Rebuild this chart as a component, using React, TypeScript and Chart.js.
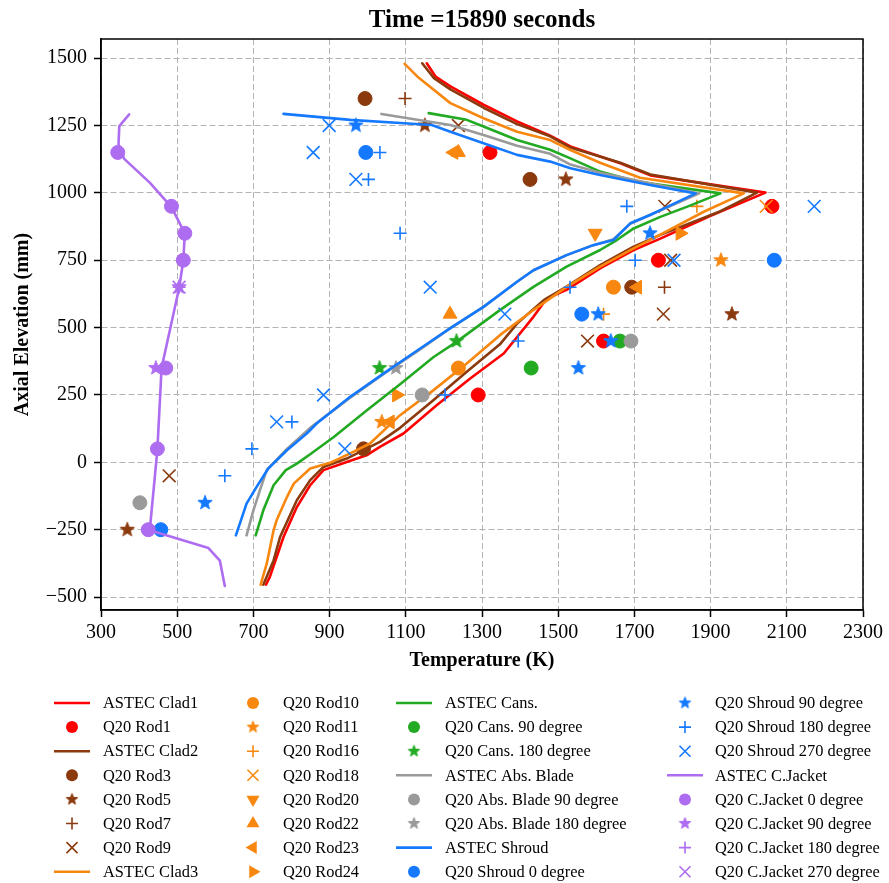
import React, { useEffect, useRef } from 'react';
import { Chart, registerables } from 'chart.js';

Chart.register(...registerables);

const FONT = "'Liberation Serif', 'Times New Roman', serif";

// ---------------- data ----------------
const chartTitle = 'Time =15890 seconds';
const xTitle = 'Temperature (K)';
const yTitle = 'Axial Elevation (mm)';
const xRange = [300, 2300];
const yRange = [-548, 1571];
const xStep = 200;
const yStep = 250;

type P = [number, number];

const astecClad1: P[] = [[733,-454],[743,-426],[761,-352],[779,-277],[814,-166],[849,-85],[884,-29],[945,1],[997,26],[1032,57],[1094,107],[1181,212],[1269,311],[1357,404],[1435,540],[1470,608],[1522,640],[1610,720],[1698,788],[1768,830],[1900,915],[2044,1001],[1742,1065],[1663,1110],[1532,1172],[1479,1212],[1392,1265],[1304,1327],[1217,1395],[1178,1432],[1155,1481]];
const astecClad2: P[] = [[726,-454],[753,-364],[770,-277],[814,-141],[849,-66],[884,-17],[945,14],[989,45],[1032,76],[1085,128],[1173,231],[1260,336],[1347,438],[1392,515],[1462,602],[1522,652],[1610,732],[1698,800],[1768,844],[1926,932],[2022,1001],[1742,1068],[1663,1112],[1532,1168],[1479,1210],[1392,1255],[1304,1316],[1217,1384],[1174,1426],[1143,1481]];
const astecClad3: P[] = [[719,-454],[735,-376],[753,-252],[761,-215],[788,-129],[806,-79],[849,-23],[901,-2],[954,33],[1006,70],[1085,175],[1173,268],[1260,367],[1347,472],[1435,565],[1522,651],[1610,726],[1698,794],[1768,845],[1882,930],[1987,998],[1715,1056],[1610,1112],[1532,1159],[1479,1196],[1392,1227],[1304,1277],[1217,1333],[1130,1432],[1097,1479]];
const astecCans: P[] = [[706,-271],[726,-178],[753,-85],[785,-29],[814,-5],[849,30],[911,94],[998,193],[1085,290],[1173,391],[1233,447],[1347,565],[1435,651],[1522,726],[1610,788],[1654,825],[1698,868],[1768,911],[1839,949],[1926,998],[1706,1042],[1610,1079],[1532,1128],[1479,1160],[1392,1196],[1304,1246],[1260,1271],[1160,1296]];
const astecAbsBlade: P[] = [[682,-271],[700,-178],[717,-104],[735,-29],[788,50],[849,128],[954,240],[1042,328],[1130,412],[1216,497],[1304,577],[1392,670],[1435,713],[1522,769],[1592,806],[1645,828],[1689,885],[1741,918],[1870,998],[1741,1036],[1610,1075],[1532,1105],[1479,1145],[1392,1175],[1304,1215],[1217,1252],[1130,1271],[1036,1293]];
const astecShroud: P[] = [[654,-271],[682,-153],[708,-92],[739,-23],[788,45],[840,107],[866,144],[954,243],[1042,330],[1130,415],[1216,497],[1304,577],[1392,670],[1435,713],[1522,769],[1592,806],[1645,825],[1689,887],[1741,918],[1768,936],[1861,998],[1741,1029],[1610,1066],[1532,1091],[1479,1116],[1392,1141],[1304,1184],[1217,1227],[1168,1252],[1085,1259],[954,1271],[779,1293]];
const astecJacket: P[] = [[625,-459],[612,-365],[582,-318],[428,-252],[448,47],[459,350],[505,647],[516,748],[520,850],[485,947],[428,1038],[361,1126],[346,1180],[348,1248],[374,1291]];

const q20Rod1: P[] = [[1290,250],[1619,450],[1763,750],[2061,950],[1321,1150]];
const q20Rod3: P[] = [[989,50],[1693,650],[1426,1050],[993,1350]];
const q20Rod5: P[] = [[369,-250],[1956,550],[1520,1050],[1150,1250]];
const q20Rod7: P[] = [[1779,650],[1098,1350]];
const q20Rod9: P[] = [[479,-50],[1577,450],[1776,550],[1795,750],[1780,950],[1238,1250]];
const q20Rod10: P[] = [[1238,350],[1645,650]];
const q20Rod11: P[] = [[1037,150],[1927,750]];
const q20Rod16: P[] = [[1619,550],[1864,950]];
const q20Rod18: P[] = [[2046,950]];
const q20Rod20: P[] = [[1597,850]];
const q20Rod22: P[] = [[1216,550],[1238,1150]];
const q20Rod23: P[] = [[1059,150],[1708,650],[1226,1150]];
const q20Rod24: P[] = [[1076,250],[1820,850]];
const q20Cans90: P[] = [[1429,350],[1662,450]];
const q20Cans180: P[] = [[1031,350],[1233,450]];
const q20Abs90: P[] = [[402,-150],[1143,250],[1691,450]];
const q20Abs180: P[] = [[1074,350]];
const q20Shroud0: P[] = [[457,-250],[1562,550],[2067,750],[995,1150]];
const q20Shroud90: P[] = [[573,-150],[1553,350],[1638,450],[1605,550],[1741,850],[969,1250]];
const q20Shroud180: P[] = [[625,-50],[696,50],[801,150],[1203,250],[1395,450],[1531,650],[1702,750],[1085,850],[1680,950],[1002,1050],[1032,1150]];
const q20Shroud270: P[] = [[940,50],[761,150],[884,250],[1360,550],[1164,650],[1804,750],[2172,950],[969,1050],[857,1150],[899,1250]];
const q20Jacket0: P[] = [[424,-250],[448,50],[470,350],[516,750],[520,850],[485,950],[344,1150]];
const q20Jacket90: P[] = [[444,350],[505,650]];
const q20Jacket180: P[] = [[505,650]];
const q20Jacket270: P[] = [[505,650]];

// ---------------- styles ----------------
const COL = {
  red: '#ff0000',
  brown: '#8b3a0e',
  orange: '#f7870f',
  green: '#22aa22',
  gray: '#9a9a9a',
  blue: '#1479ff',
  purple: '#ae6cf0',
};

type Kind = 'line' | 'circle' | 'star' | 'plus' | 'x' | 'tri';
interface Series { label: string; data: P[]; color: string; kind: Kind; rot?: number; }

const SERIES: Series[] = [
  { label: 'ASTEC Clad1', data: astecClad1, color: COL.red, kind: 'line' },
  { label: 'Q20 Rod1', data: q20Rod1, color: COL.red, kind: 'circle' },
  { label: 'ASTEC Clad2', data: astecClad2, color: COL.brown, kind: 'line' },
  { label: 'Q20 Rod3', data: q20Rod3, color: COL.brown, kind: 'circle' },
  { label: 'Q20 Rod5', data: q20Rod5, color: COL.brown, kind: 'star' },
  { label: 'Q20 Rod7', data: q20Rod7, color: COL.brown, kind: 'plus' },
  { label: 'Q20 Rod9', data: q20Rod9, color: COL.brown, kind: 'x' },
  { label: 'ASTEC Clad3', data: astecClad3, color: COL.orange, kind: 'line' },
  { label: 'Q20 Rod10', data: q20Rod10, color: COL.orange, kind: 'circle' },
  { label: 'Q20 Rod11', data: q20Rod11, color: COL.orange, kind: 'star' },
  { label: 'Q20 Rod16', data: q20Rod16, color: COL.orange, kind: 'plus' },
  { label: 'Q20 Rod18', data: q20Rod18, color: COL.orange, kind: 'x' },
  { label: 'Q20 Rod20', data: q20Rod20, color: COL.orange, kind: 'tri', rot: 180 },
  { label: 'Q20 Rod22', data: q20Rod22, color: COL.orange, kind: 'tri', rot: 0 },
  { label: 'Q20 Rod23', data: q20Rod23, color: COL.orange, kind: 'tri', rot: 270 },
  { label: 'Q20 Rod24', data: q20Rod24, color: COL.orange, kind: 'tri', rot: 90 },
  { label: 'ASTEC Cans.', data: astecCans, color: COL.green, kind: 'line' },
  { label: 'Q20 Cans. 90 degree', data: q20Cans90, color: COL.green, kind: 'circle' },
  { label: 'Q20 Cans. 180 degree', data: q20Cans180, color: COL.green, kind: 'star' },
  { label: 'ASTEC Abs. Blade', data: astecAbsBlade, color: COL.gray, kind: 'line' },
  { label: 'Q20 Abs. Blade 90 degree', data: q20Abs90, color: COL.gray, kind: 'circle' },
  { label: 'Q20 Abs. Blade 180 degree', data: q20Abs180, color: COL.gray, kind: 'star' },
  { label: 'ASTEC Shroud', data: astecShroud, color: COL.blue, kind: 'line' },
  { label: 'Q20 Shroud 0 degree', data: q20Shroud0, color: COL.blue, kind: 'circle' },
  { label: 'Q20 Shroud 90 degree', data: q20Shroud90, color: COL.blue, kind: 'star' },
  { label: 'Q20 Shroud 180 degree', data: q20Shroud180, color: COL.blue, kind: 'plus' },
  { label: 'Q20 Shroud 270 degree', data: q20Shroud270, color: COL.blue, kind: 'x' },
  { label: 'ASTEC C.Jacket', data: astecJacket, color: COL.purple, kind: 'line' },
  { label: 'Q20 C.Jacket 0 degree', data: q20Jacket0, color: COL.purple, kind: 'circle' },
  { label: 'Q20 C.Jacket 90 degree', data: q20Jacket90, color: COL.purple, kind: 'star' },
  { label: 'Q20 C.Jacket 180 degree', data: q20Jacket180, color: COL.purple, kind: 'plus' },
  { label: 'Q20 C.Jacket 270 degree', data: q20Jacket270, color: COL.purple, kind: 'x' },
];

function makeStar(color: string, r: number): HTMLCanvasElement {
  const c = document.createElement('canvas');
  const s = Math.ceil(2 * r + 3);
  c.width = s;
  c.height = s;
  const ctx = c.getContext('2d')!;
  ctx.beginPath();
  for (let i = 0; i < 10; i++) {
    const a = -Math.PI / 2 + (i * Math.PI) / 5;
    const rr = i % 2 === 0 ? r : r * 0.42;
    ctx.lineTo(s / 2 + rr * Math.cos(a), s / 2 + rr * Math.sin(a));
  }
  ctx.closePath();
  ctx.fillStyle = color;
  ctx.fill();
  ctx.lineWidth = 1;
  ctx.strokeStyle = color;
  ctx.lineJoin = 'round';
  ctx.stroke();
  return c;
}

function datasetFor(s: Series, i: number, stars: Record<string, HTMLCanvasElement>) {
  const data = s.data.map(([x, y]) => ({ x, y }));
  const base: any = { label: s.label, data, order: SERIES.length - i };
  if (s.kind === 'line') {
    return { ...base, showLine: true, borderColor: s.color, borderWidth: 2.6, pointRadius: 0, tension: 0, borderJoinStyle: 'round', borderCapStyle: 'round' };
  }
  const common = { ...base, showLine: false, borderColor: s.color, backgroundColor: s.color, pointHoverRadius: 0 };
  switch (s.kind) {
    case 'circle':
      return { ...common, pointStyle: 'circle', pointRadius: 7, pointBorderWidth: 1 };
    case 'star':
      return { ...common, pointStyle: stars[s.color], pointRadius: 7 };
    case 'plus':
      return { ...common, pointStyle: 'cross', pointRadius: 6.5, pointBorderWidth: 1.6 };
    case 'x':
      return { ...common, pointStyle: 'crossRot', pointRadius: 9, pointBorderWidth: 1.6 };
    case 'tri':
    default:
      return { ...common, pointStyle: 'triangle', pointRadius: 8, pointRotation: s.rot || 0, pointBorderWidth: 1 };
  }
}

function drawLegendMarker(ctx: CanvasRenderingContext2D, s: Series, x: number, y: number, stars: Record<string, HTMLCanvasElement>) {
  ctx.save();
  ctx.strokeStyle = s.color;
  ctx.fillStyle = s.color;
  if (s.kind === 'line') {
    ctx.lineWidth = 2.6;
    ctx.beginPath();
    ctx.moveTo(x - 18, y);
    ctx.lineTo(x + 18, y);
    ctx.stroke();
  } else if (s.kind === 'circle') {
    ctx.beginPath();
    ctx.arc(x, y, 6, 0, Math.PI * 2);
    ctx.fill();
  } else if (s.kind === 'star') {
    const img = stars[s.color + '_s'];
    ctx.drawImage(img, x - img.width / 2, y - img.height / 2);
  } else if (s.kind === 'plus') {
    ctx.lineWidth = 1.6;
    ctx.beginPath();
    ctx.moveTo(x - 6, y); ctx.lineTo(x + 6, y);
    ctx.moveTo(x, y - 6); ctx.lineTo(x, y + 6);
    ctx.stroke();
  } else if (s.kind === 'x') {
    ctx.lineWidth = 1.6;
    ctx.beginPath();
    ctx.moveTo(x - 5.5, y - 5.5); ctx.lineTo(x + 5.5, y + 5.5);
    ctx.moveTo(x + 5.5, y - 5.5); ctx.lineTo(x - 5.5, y + 5.5);
    ctx.stroke();
  } else {
    const r = 7.5;
    let rad = ((s.rot || 0) * Math.PI) / 180;
    ctx.beginPath();
    for (let k = 0; k < 3; k++) {
      ctx.lineTo(x + Math.sin(rad) * r, y - Math.cos(rad) * r);
      rad += (2 * Math.PI) / 3;
    }
    ctx.closePath();
    ctx.fill();
  }
  ctx.restore();
}

export default function App() {
  const ref = useRef<HTMLCanvasElement>(null);

  useEffect(() => {
    document.body.style.margin = '0';
    const stars: Record<string, HTMLCanvasElement> = {};
    Object.values(COL).forEach((c) => {
      stars[c] = makeStar(c, 7.5);
      stars[c + '_s'] = makeStar(c, 6);
    });

    const legendPlugin = {
      id: 'columnLegend',
      afterDraw(chart: any) {
        const ctx: CanvasRenderingContext2D = chart.ctx;
        const markerX = [72, 253, 414, 685];
        const textX = [103, 283, 445, 715];
        ctx.save();
        ctx.font = `16.4px ${FONT}`;
        ctx.textBaseline = 'middle';
        ctx.textAlign = 'left';
        SERIES.forEach((s, i) => {
          const col = Math.floor(i / 8);
          const row = i % 8;
          const y = 703 + row * 24.1;
          drawLegendMarker(ctx, s, markerX[col], y, stars);
          ctx.fillStyle = '#000';
          ctx.fillText(s.label, textX[col], y + 1);
        });
        ctx.restore();
      },
    };

    const framePlugin = {
      id: 'frameAndTitle',
      afterDatasetsDraw(chart: any) {
        const { ctx, chartArea: a } = chart;
        ctx.save();
        ctx.strokeStyle = '#000';
        ctx.lineWidth = 1.5;
        ctx.strokeRect(a.left, a.top, a.right - a.left, a.bottom - a.top);
        ctx.fillStyle = '#000';
        ctx.font = `bold 25px ${FONT}`;
        ctx.textAlign = 'center';
        ctx.textBaseline = 'alphabetic';
        ctx.fillText(chartTitle, (a.left + a.right) / 2, a.top - 12);
        ctx.restore();
      },
    };

    const tickFont = { family: FONT, size: 20 };
    const chart = new Chart(ref.current!, {
      type: 'scatter',
      data: { datasets: SERIES.map((s, i) => datasetFor(s, i, stars)) as any },
      options: {
        responsive: false,
        animation: false,
        devicePixelRatio: 1,
        layout: { padding: { left: 0, right: 26, top: 39, bottom: 203 } },
        events: [],
        plugins: {
          legend: { display: false },
          tooltip: { enabled: false },
          title: { display: false },
        },
        scales: {
          x: {
            type: 'linear',
            min: xRange[0],
            max: xRange[1],
            afterFit: (scale: any) => { scale.height = 70; },
            ticks: {
              stepSize: xStep,
              color: '#000',
              font: tickFont,
              padding: 4,
              maxRotation: 0,
              autoSkip: false,
              callback: (v: any) => String(v),
            },
            grid: { color: '#b3b3b3', lineWidth: 1, tickLength: 7, tickColor: '#000', tickWidth: 1.5, tickBorderDash: [] },
            border: { display: true, color: '#000', width: 1.5, dash: [6, 3] },
            title: { display: true, text: xTitle, color: '#000', font: { family: FONT, size: 20, weight: 'bold' }, padding: { top: 0, bottom: 7 } },
          },
          y: {
            type: 'linear',
            min: yRange[0],
            max: yRange[1],
            afterFit: (scale: any) => { scale.width = 101; },
            ticks: {
              stepSize: yStep,
              includeBounds: false,
              color: '#000',
              font: tickFont,
              padding: 7,
              callback: (v: any) => String(v).replace('-', '\u2212'),
            },
            grid: { color: '#b3b3b3', lineWidth: 1, tickLength: 7, tickColor: '#000', tickWidth: 1.5, tickBorderDash: [] },
            border: { display: true, color: '#000', width: 1.5, dash: [6, 3] },
            title: { display: true, text: yTitle, color: '#000', font: { family: FONT, size: 20, weight: 'bold' }, padding: { top: 11, bottom: 0 } },
          },
        },
      } as any,
      plugins: [framePlugin, legendPlugin],
    });
    return () => chart.destroy();
  }, []);

  return (
    <div style={{ width: 889, height: 883 }}>
      <canvas ref={ref} width={889} height={883} style={{ display: 'block' }} />
    </div>
  );
}
